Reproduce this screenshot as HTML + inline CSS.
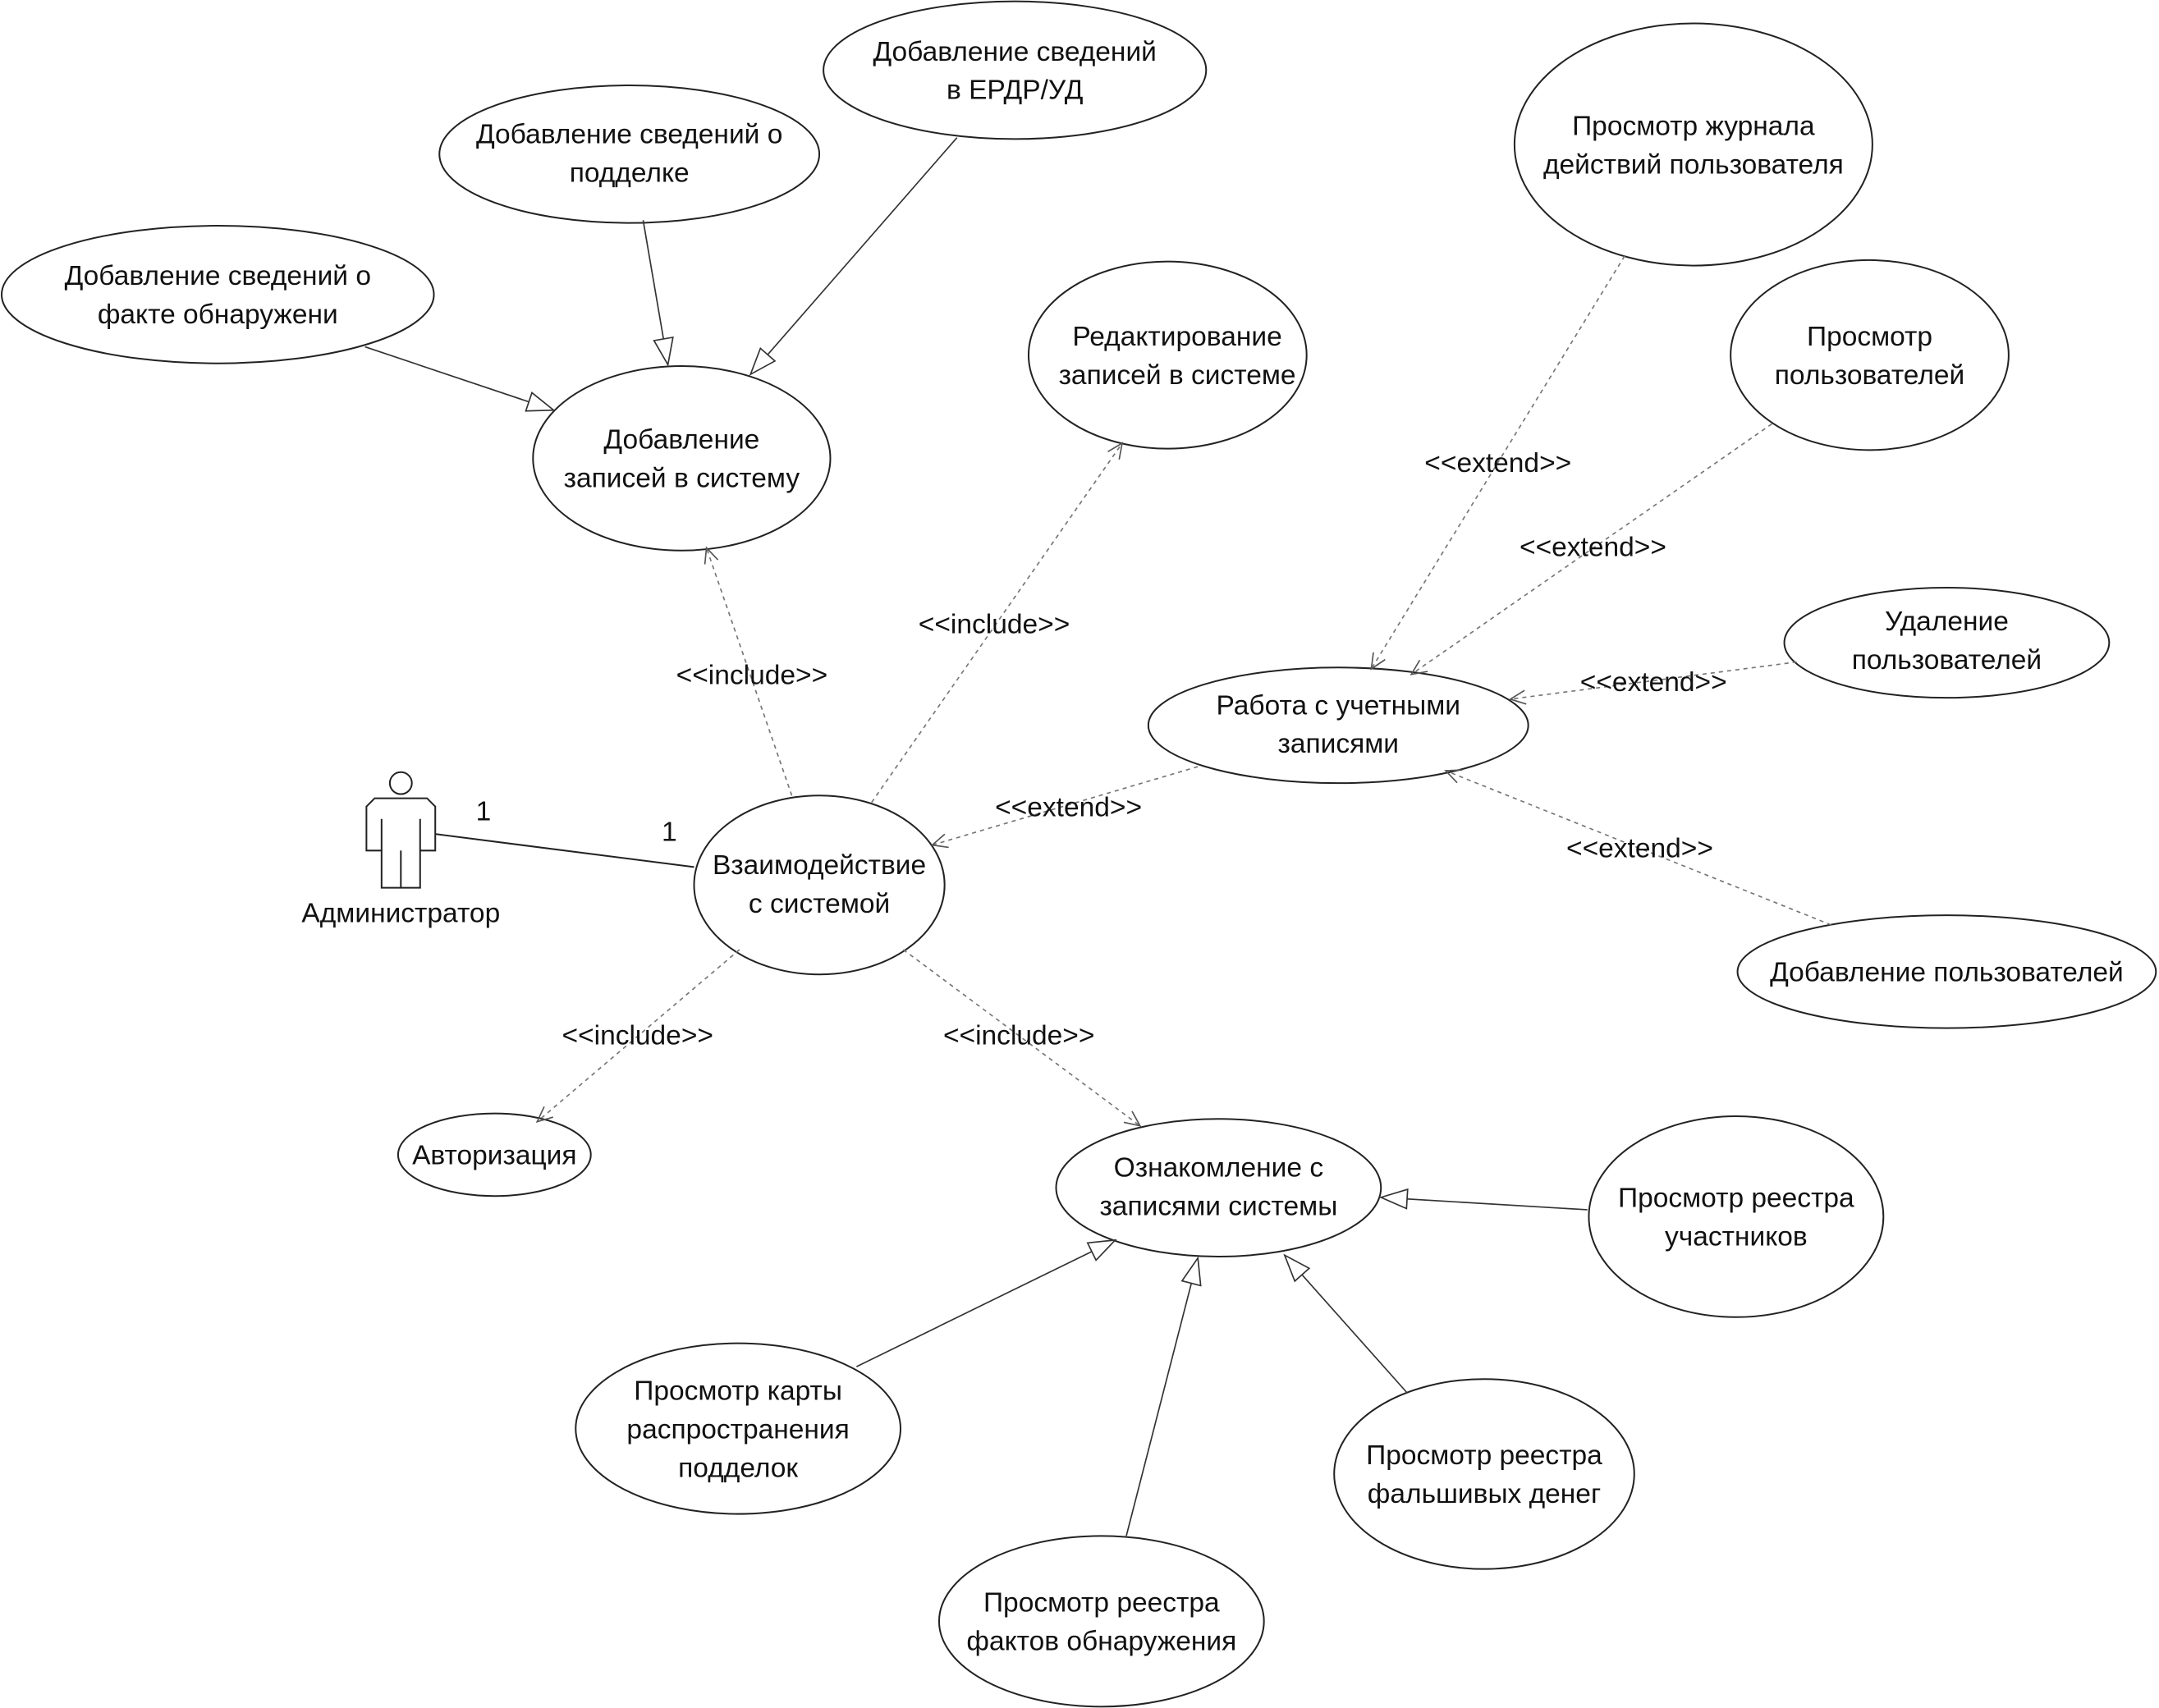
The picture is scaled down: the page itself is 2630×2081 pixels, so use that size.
<!DOCTYPE html>
<html><head><meta charset="utf-8"><style>
html,body{margin:0;padding:0;background:#fff;}
svg{display:block}
text{font-family:"Liberation Sans","DejaVu Sans",sans-serif;font-size:20px;fill:#111;text-anchor:middle}
</style></head><body>
<svg width="2630" height="2081" viewBox="0 0 1568 1241" xmlns="http://www.w3.org/2000/svg">
<defs>
<marker id="tri" markerWidth="22" markerHeight="16" refX="20" refY="8" orient="auto" markerUnits="userSpaceOnUse">
<path d="M1,1 L20,8 L1,15 Z" fill="#fff" stroke="#333" stroke-width="1"/></marker>
<marker id="open" markerWidth="14" markerHeight="12" refX="12" refY="6" orient="auto" markerUnits="userSpaceOnUse">
<path d="M1,1 L12,6 L1,11" fill="none" stroke="#555" stroke-width="1"/></marker>
</defs>
<g fill="#fff" stroke="#222" stroke-width="1.2">
<ellipse cx="158" cy="214" rx="157" ry="50"/>
<ellipse cx="457" cy="112" rx="138" ry="50"/>
<ellipse cx="737" cy="51" rx="139" ry="50"/>
<ellipse cx="495" cy="333" rx="108" ry="67"/>
<ellipse cx="848" cy="258" rx="101" ry="68"/>
<ellipse cx="1230" cy="105" rx="130" ry="88"/>
<ellipse cx="1358" cy="258" rx="101" ry="69"/>
<ellipse cx="1414" cy="467" rx="118" ry="40"/>
<ellipse cx="972" cy="527" rx="138" ry="42"/>
<ellipse cx="595" cy="643" rx="91" ry="65"/>
<ellipse cx="1414" cy="706" rx="152" ry="41"/>
<ellipse cx="359" cy="839" rx="70" ry="30"/>
<ellipse cx="885" cy="863" rx="118" ry="50"/>
<ellipse cx="1261" cy="884" rx="107" ry="73"/>
<ellipse cx="536" cy="1038" rx="118" ry="62"/>
<ellipse cx="1078" cy="1071" rx="109" ry="69"/>
<ellipse cx="800" cy="1178" rx="118" ry="62"/>
</g>
<!-- actor -->
<g fill="#fff" stroke="#222" stroke-width="1.2">
<circle cx="291" cy="569" r="8"/>
<path d="M272,580 L310,580 L316,586 L316,618 L305,618 L305,645 L277,645 L277,618 L266,618 L266,586 Z"/>
<line x1="277" y1="595" x2="277" y2="618"/><line x1="305" y1="595" x2="305" y2="618"/>
<line x1="291" y1="618" x2="291" y2="645"/>
</g>
<line x1="316" y1="606" x2="504" y2="630" stroke="#222" stroke-width="1.2"/>
<!-- generalization -->
<g stroke="#333" stroke-width="1" fill="none" marker-end="url(#tri)">
<line x1="265" y1="252" x2="402" y2="298"/>
<line x1="467" y1="160" x2="485" y2="265"/>
<line x1="695" y1="100" x2="545" y2="272"/>
<line x1="1153" y1="879" x2="1003" y2="870"/>
<line x1="622" y1="993" x2="810" y2="901"/>
<line x1="818" y1="1116" x2="870" y2="914"/>
<line x1="1022" y1="1012" x2="933" y2="912"/>
</g>
<!-- dashed -->
<g stroke="#777" stroke-width="1" fill="none" stroke-dasharray="3,3" marker-end="url(#open)">
<line x1="575" y1="578" x2="513" y2="398"/>
<line x1="633" y1="583" x2="815" y2="322"/>
<line x1="1180" y1="186" x2="996" y2="486"/>
<line x1="1287" y1="308" x2="1025" y2="490"/>
<line x1="1305" y1="481" x2="1097" y2="508"/>
<line x1="1330" y1="672" x2="1050" y2="560"/>
<line x1="870" y1="557" x2="677" y2="614"/>
<line x1="537" y1="690" x2="390" y2="815"/>
<line x1="656" y1="690" x2="828" y2="818"/>
</g>
<!-- labels -->
<g>
<text x="158" y="207">Добавление сведений о</text><text x="158" y="235">факте обнаружени</text>
<text x="457" y="104">Добавление сведений о</text><text x="457" y="132">подделке</text>
<text x="737" y="44">Добавление сведений</text><text x="737" y="72">в ЕРДР/УД</text>
<text x="495" y="326">Добавление</text><text x="495" y="354">записей в систему</text>
<text x="855" y="251">Редактирование</text><text x="855" y="279">записей в системе</text>
<text x="1230" y="98">Просмотр журнала</text><text x="1230" y="126">действий пользователя</text>
<text x="1358" y="251">Просмотр</text><text x="1358" y="279">пользователей</text>
<text x="1414" y="458">Удаление</text><text x="1414" y="486">пользователей</text>
<text x="972" y="519">Работа с учетными</text><text x="972" y="547">записями</text>
<text x="595" y="635">Взаимодействие</text><text x="595" y="663">с системой</text>
<text x="1414" y="713">Добавление пользователей</text>
<text x="359" y="846">Авторизация</text>
<text x="885" y="855">Ознакомление с</text><text x="885" y="883">записями системы</text>
<text x="1261" y="877">Просмотр реестра</text><text x="1261" y="905">участников</text>
<text x="536" y="1017">Просмотр карты</text><text x="536" y="1045">распространения</text><text x="536" y="1073">подделок</text>
<text x="1078" y="1064">Просмотр реестра</text><text x="1078" y="1092">фальшивых денег</text>
<text x="800" y="1171">Просмотр реестра</text><text x="800" y="1199">фактов обнаружения</text>
<text x="291" y="670">Администратор</text>
<text x="351" y="596">1</text><text x="486" y="611">1</text>
<text x="546" y="497">&lt;&lt;include&gt;&gt;</text>
<text x="722" y="460">&lt;&lt;include&gt;&gt;</text>
<text x="463" y="759">&lt;&lt;include&gt;&gt;</text>
<text x="740" y="759">&lt;&lt;include&gt;&gt;</text>
<text x="1088" y="343">&lt;&lt;extend&gt;&gt;</text>
<text x="1157" y="404">&lt;&lt;extend&gt;&gt;</text>
<text x="1201" y="502">&lt;&lt;extend&gt;&gt;</text>
<text x="1191" y="623">&lt;&lt;extend&gt;&gt;</text>
<text x="776" y="593">&lt;&lt;extend&gt;&gt;</text>
</g>
</svg>
</body></html>
